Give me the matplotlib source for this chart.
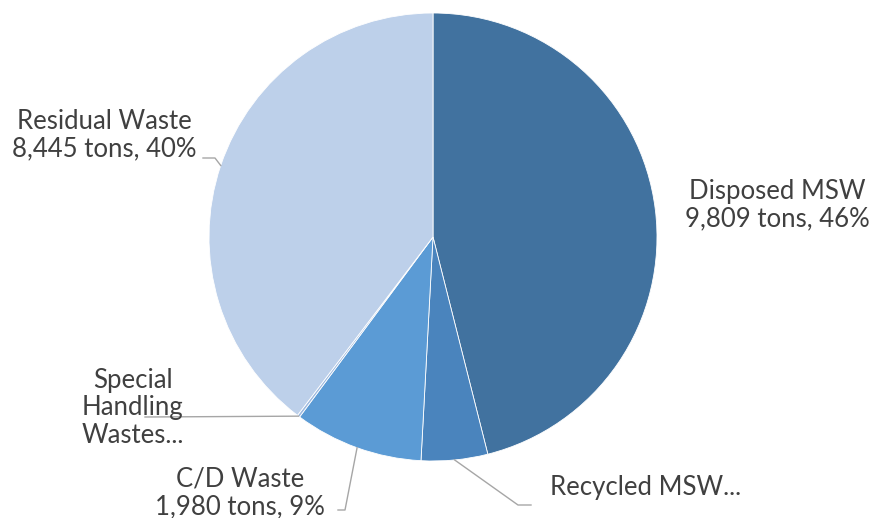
import numpy as np
import matplotlib
matplotlib.use("Agg")
import matplotlib.pyplot as plt
from matplotlib.lines import Line2D

categories = ["Disposed MSW", "Recycled MSW", "C/D Waste", "Special Handling Wastes", "Residual Waste"]
values = [9809, 1020, 1980, 40, 8445]
colors = ["#41729F", "#4A84BD", "#5B9BD5", "#9DB9DF", "#BDD0EA"]

W, H = 873, 518
fig = plt.figure(figsize=(W / 100, H / 100), dpi=100)
cx, cy, r = 433, 237, 224
ax = fig.add_axes([(cx - r) / W, (H - cy - r) / H, 2 * r / W, 2 * r / H])
wedges, _ = ax.pie(values, colors=colors, startangle=90, counterclock=False,
                   radius=1, wedgeprops=dict(edgecolor="white", linewidth=0.6))
ax.set_xlim(-1, 1)
ax.set_ylim(-1, 1)
ax.set_aspect("equal")
ax.axis("off")

total = sum(values)
pcts = [round(v / total * 100) for v in values]

plt.rcParams["font.family"] = ["Lato", "DejaVu Sans"]
tc = "#404040"
fs = 18.5
lc = "#A6A6A6"

def fig_px(x, y_top):
    return x / W, (H - y_top) / H

def wedge_pt(i):
    w = wedges[i]
    ang = np.deg2rad((w.theta1 + w.theta2) / 2)
    disp = ax.transData.transform((np.cos(ang), np.sin(ang)))
    return disp[0] / W, disp[1] / H

def leader(i, pts):
    p0 = wedge_pt(i)
    xs = [p0[0]] + [fig_px(*p)[0] for p in pts]
    ys = [p0[1]] + [fig_px(*p)[1] for p in pts]
    fig.add_artist(Line2D(xs, ys, color=lc, lw=1.0, transform=fig.transFigure))

def label(text, x, y, ha="center"):
    fx, fy = fig_px(x, y)
    fig.text(fx, fy, text, ha=ha, va="center", fontsize=fs, color=tc, linespacing=1.12)

# Disposed MSW
label(f"{categories[0]}\n{values[0]:,} tons, {pcts[0]}%", 777, 205)
# Residual
leader(4, [(215, 158), (203, 158)])
label(f"{categories[4]}\n{values[4]:,} tons, {pcts[4]}%", 104, 135)
# Special handling
leader(3, [(145, 417)])
label("Special\nHandling\nWastes...", 133, 408)
# C/D
leader(2, [(345, 510), (338, 510)])
label(f"{categories[2]}\n{values[2]:,} tons, {pcts[2]}%", 240, 493)
# Recycled
leader(1, [(518, 505), (531, 505)])
label("Recycled MSW...", 550, 488, ha="left")

fig.savefig("out.png", dpi=100)
